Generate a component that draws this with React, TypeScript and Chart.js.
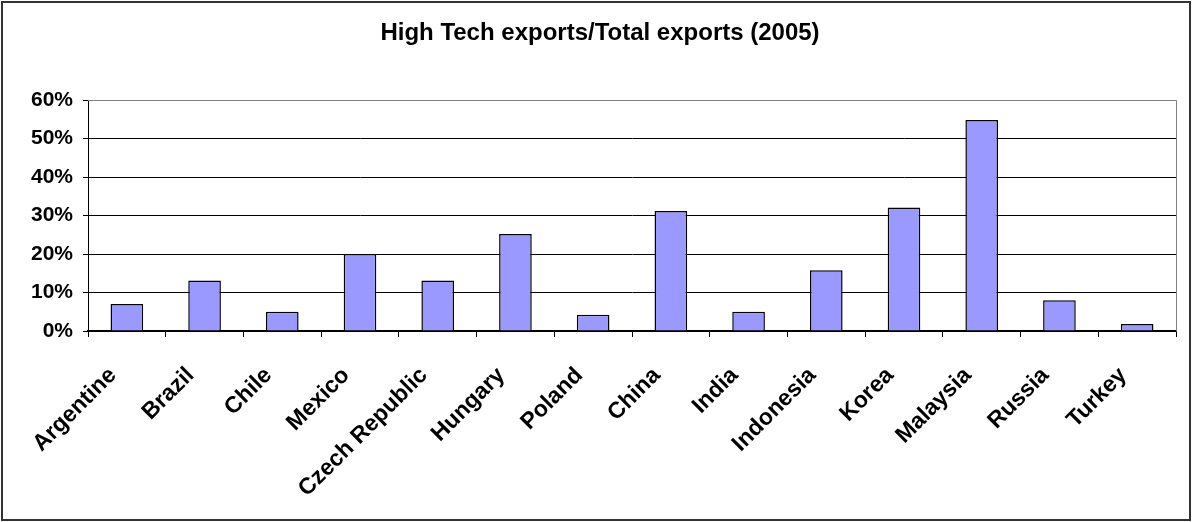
import React, { useEffect, useRef } from "react";
import { Chart, registerables } from "chart.js";

Chart.register(...registerables);

const categories = [
  "Argentine",
  "Brazil",
  "Chile",
  "Mexico",
  "Czech Republic",
  "Hungary",
  "Poland",
  "China",
  "India",
  "Indonesia",
  "Korea",
  "Malaysia",
  "Russia",
  "Turkey",
];

const shareValues = [7.0, 13.1, 5.0, 20.0, 13.1, 25.2, 4.2, 31.2, 5.0, 15.8, 32.1, 54.8, 8.0, 1.8];

const yTickValues = [0, 10, 20, 30, 40, 50, 60];

const titleText = "High Tech exports/Total exports (2005)";

const W = 1192;
const H = 522;

export default function App() {
  const ref = useRef<HTMLCanvasElement | null>(null);

  useEffect(() => {
    const canvas = ref.current;
    if (!canvas) return;
    const font = "'Liberation Sans', Arial, sans-serif";

    const framePlugin = {
      id: "frame",
      beforeDatasetsDraw(chart: any) {
        const { ctx, chartArea } = chart;
        ctx.save();
        ctx.strokeStyle = "#808080";
        ctx.lineWidth = 1;
        ctx.beginPath();
        ctx.moveTo(chartArea.left, Math.round(chartArea.top) + 0.5);
        ctx.lineTo(Math.round(chartArea.right) + 0.5, Math.round(chartArea.top) + 0.5);
        ctx.lineTo(Math.round(chartArea.right) + 0.5, chartArea.bottom);
        ctx.stroke();
        ctx.restore();
      },
      afterDraw(chart: any) {
        const { ctx } = chart;
        ctx.save();
        ctx.strokeStyle = "#333333";
        ctx.lineWidth = 2;
        ctx.strokeRect(2, 2, W - 4, H - 4);
        ctx.restore();
      },
    };

    const chart = new Chart(canvas, {
      type: "bar",
      data: {
        labels: categories,
        datasets: [
          {
            data: shareValues,
            backgroundColor: "#9999FF",
            borderColor: "#000000",
            borderWidth: 1.5,
            barPercentage: 0.42,
            categoryPercentage: 1,
          },
        ],
      },
      options: {
        responsive: false,
        animation: false,
        layout: { padding: { left: 24, right: 16, top: 0, bottom: 0 } },
        plugins: {
          legend: { display: false },
          tooltip: { enabled: false },
          title: {
            display: true,
            text: titleText,
            color: "#000",
            font: { family: font, size: 24, weight: "bold" },
            padding: { top: 19, bottom: 52.2 },
          },
        },
        scales: {
          x: {
            afterFit(scale: any) {
              scale.height = H - 331;
            },
            grid: {
              offset: true,
              drawOnChartArea: false,
              drawTicks: true,
              tickLength: 6,
              color: "#000",
            },
            border: { display: true, color: "#000", width: 1.5 },
            ticks: {
              color: "#000",
              font: { family: font, size: 23, weight: "bold" },
              minRotation: 45,
              maxRotation: 45,
              autoSkip: false,
              padding: 25,
              labelOffset: -14,
            },
          },
          y: {
            min: 0,
            max: 60,
            afterFit(scale: any) {
              scale.width = 64;
            },
            afterBuildTicks(scale: any) {
              scale.ticks = yTickValues.map((v) => ({ value: v }));
            },
            grid: {
              color: (c: any) => (c.tick && c.tick.value === 60 ? "#808080" : "#000"),
              tickColor: "#000",
              tickLength: 5,
              lineWidth: 1,
            },
            border: { display: true, color: "#000", width: 1 },
            ticks: {
              color: "#000",
              font: { family: font, size: 21, weight: "bold" },
              padding: 10,
              callback: (v: any) => `${v}%`,
            },
          },
        },
      },
      plugins: [framePlugin],
    });

    return () => chart.destroy();
  }, []);

  return (
    <div style={{ position: "fixed", left: 0, top: 0, width: W, height: H, background: "#fff" }}>
      <canvas ref={ref} width={W} height={H} style={{ display: "block" }} />
    </div>
  );
}
